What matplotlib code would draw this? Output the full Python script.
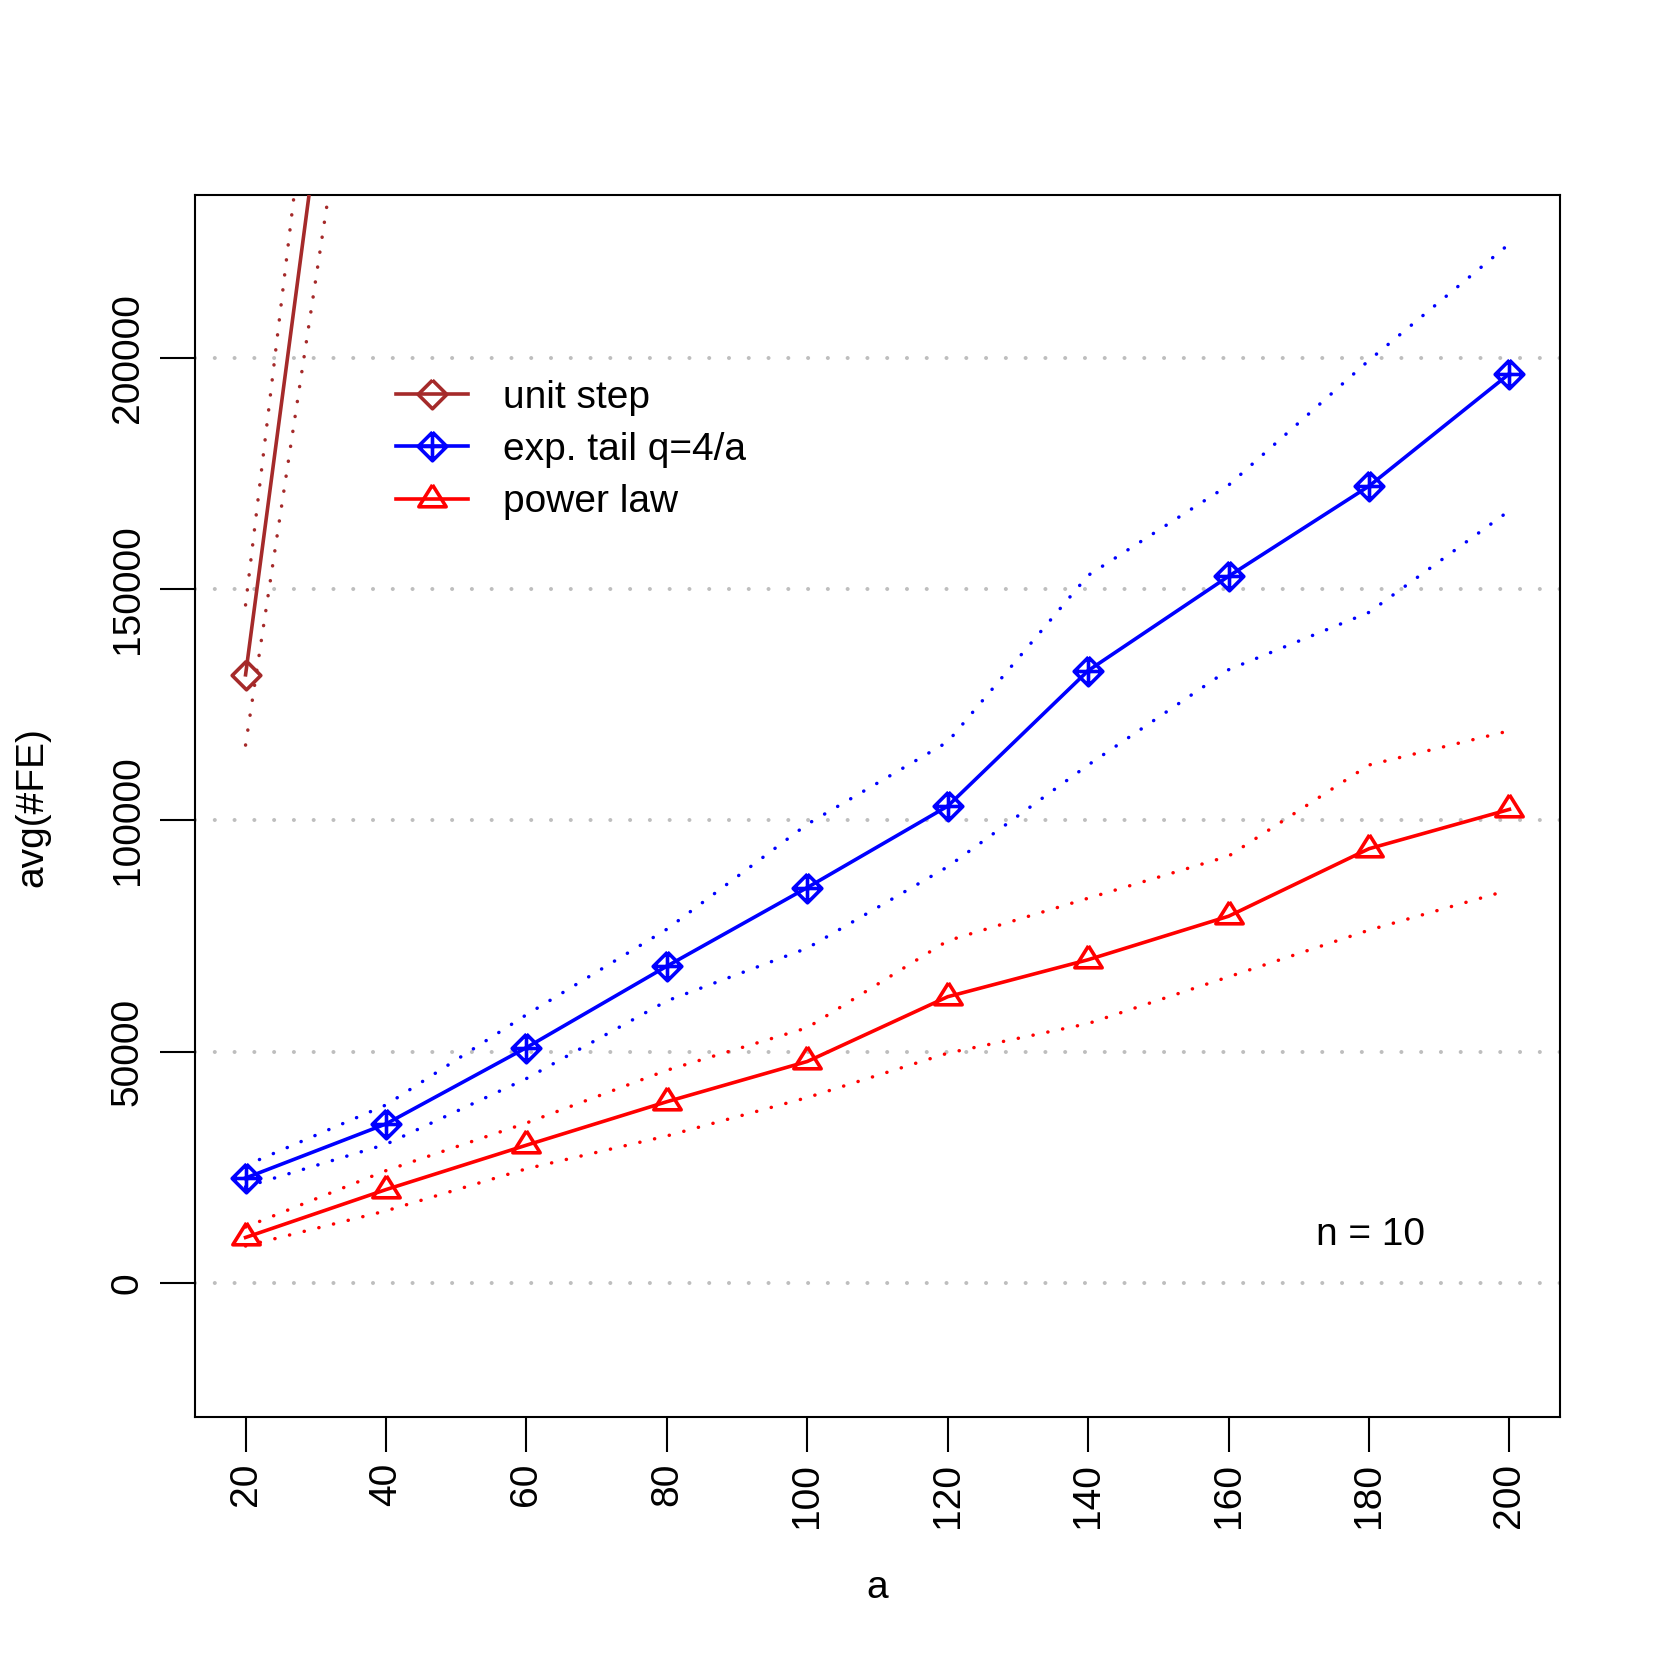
import numpy as np
import matplotlib.pyplot as plt
from matplotlib.path import Path

plt.rcParams["font.family"] = ["Liberation Sans", "DejaVu Sans"]

# DATA
a_vals = [20, 40, 60, 80, 100, 120, 140, 160, 180, 200]

unit_a = [20, 40]
unit_mean = [131500, 361000]
unit_hi = [146600, 403000]
unit_lo = [116300, 317700]

exp_mean = [22700, 34400, 50900, 68500, 85500, 103100, 132400, 152800, 172300, 196600]
exp_hi = [25400, 38500, 58000, 76500, 99200, 117000, 153000, 172500, 199500, 224700]
exp_lo = [20800, 30000, 44200, 61000, 72400, 90000, 112000, 132600, 145000, 167000]

pow_mean = [9850, 20200, 29800, 39200, 47900, 61900, 69900, 79300, 93900, 102400]
pow_hi = [12100, 24300, 34600, 46000, 55200, 74000, 83200, 92300, 112000, 119400]
pow_lo = [8000, 15600, 24700, 31800, 40100, 49700, 56100, 66200, 76300, 85000]

y_ticks = [0, 50000, 100000, 150000, 200000]
labels = ["unit step", "exp. tail q=4/a", "power law"]
colors = ["#A52A2A", "#0000FF", "#FF0000"]

# marker paths (R pch 5, 9, 2)
M, L = Path.MOVETO, Path.LINETO
diamond = Path([(0, 1), (1, 0), (0, -1), (-1, 0), (0, 1)], [M, L, L, L, L])
diamond_plus = Path([(0, 1), (1, 0), (0, -1), (-1, 0), (0, 1),
                     (-1, 0), (1, 0), (0, -1), (0, 1)],
                    [M, L, L, L, L, M, L, M, L])
h = 0.8
triangle = Path([(0, 2 * h / 3), (-0.5, -h / 3), (0.5, -h / 3), (0, 2 * h / 3)],
                [M, L, L, L])

LW = 2.6
DOT_LW = 2.5
DOT = (0, (0.05, 4.3))

fig = plt.figure(figsize=(16.61, 16.61), dpi=100)
ax = fig.add_axes([195 / 1661, 1 - 1417 / 1661, 1365 / 1661, 1222 / 1661])

for yv in y_ticks:
    ax.axhline(yv, color="#BEBEBE", lw=2.9, linestyle=(0, (0.01, 4.9)),
               dash_capstyle="round", zorder=1)

series = [
    (unit_a, unit_mean, unit_hi, unit_lo, diamond, 20.6),
    (a_vals, exp_mean, exp_hi, exp_lo, diamond_plus, 20.6),
    (a_vals, pow_mean, pow_hi, pow_lo, triangle, 21.0),
]
handles = []
for (xs, mean, hi, lo, mk, ms), col, lab in zip(series, colors, labels):
    for band in (hi, lo):
        ax.plot(xs, band, color=col, lw=DOT_LW, linestyle=DOT,
                dash_capstyle="round", zorder=2)
    ln, = ax.plot(xs, mean, color=col, lw=LW, marker=mk, ms=ms,
                  mfc="none", mec=col, mew=LW, label=lab, zorder=3)
    handles.append(ln)

ax.set_xlim(12.8, 207.2)
ax.set_ylim(-28970, 235240)
ax.set_xticks(a_vals)
ax.set_xticklabels([str(v) for v in a_vals], rotation=90)
ax.set_yticks(y_ticks)
ax.set_yticklabels([str(v) for v in y_ticks], rotation=90, va="center")
ax.tick_params(axis="both", labelsize=28, length=25, width=1.5)
ax.tick_params(axis="x", pad=8)
ax.tick_params(axis="y", pad=10.5)
for sp in ax.spines.values():
    sp.set_linewidth(1.5)

fig.text(32 / 1661, 1 - 807 / 1661, "avg(#FE)", rotation=90, fontsize=28,
         ha="center", va="center")
fig.text(877.5 / 1661, 1 - 1588 / 1661, "a", fontsize=28, ha="center", va="center")

ax.text(0.861, 0.149, "n = 10", transform=ax.transAxes, fontsize=28,
        ha="center", va="center")

ax.legend(handles=handles, loc="upper left",
          bbox_to_anchor=(396 / 1661, 1 - 379.5 / 1661),
          bbox_transform=fig.transFigure, frameon=False, fontsize=28,
          borderpad=0, borderaxespad=0, handlelength=1.85,
          handletextpad=0.9, labelspacing=0.42)

fig.savefig("out.png", dpi=100)
